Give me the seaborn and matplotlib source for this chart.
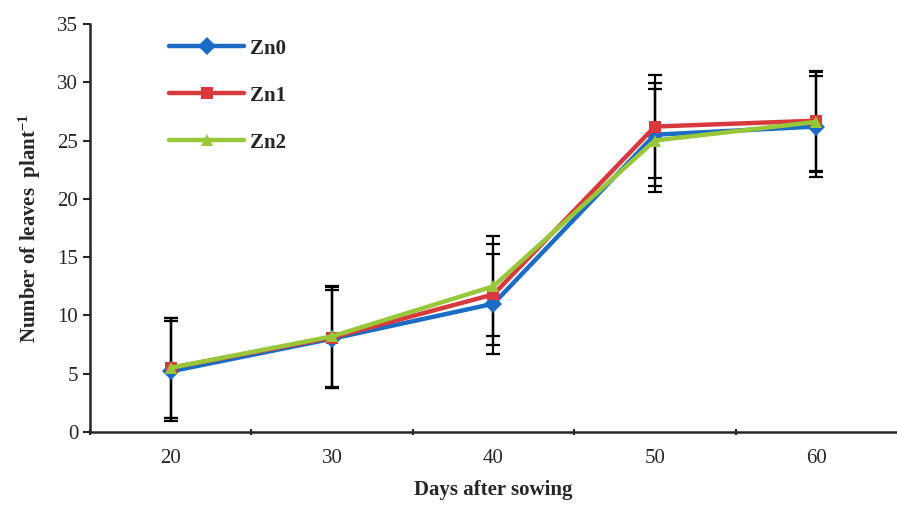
import matplotlib
matplotlib.use("Agg")
import matplotlib.pyplot as plt
import seaborn as sns
import pandas as pd

days = [20, 30, 40, 50, 60]
zn0 = [5.2, 8.0, 11.0, 25.5, 26.2]
zn1 = [5.5, 8.1, 11.8, 26.2, 26.7]
zn2 = [5.5, 8.2, 12.5, 25.0, 26.6]
err0 = [4.3, 4.2, 4.3, 4.4, 4.3]
err1 = [4.3, 4.3, 4.3, 4.4, 4.3]
err2 = [4.3, 4.3, 4.3, 4.4, 4.3]
series = ["Zn0", "Zn1", "Zn2"]
colors = ["#1a6cc4", "#d8393c", "#98c83a"]
markers = ["D", "s", "^"]

sns.set_style("ticks")
plt.rcParams['font.family'] = ['Liberation Serif', 'DejaVu Serif']
plt.rcParams['mathtext.fontset'] = 'custom'
plt.rcParams['mathtext.rm'] = 'Liberation Serif:bold'
plt.rcParams['mathtext.it'] = 'Liberation Serif:bold'
plt.rcParams['mathtext.bf'] = 'Liberation Serif:bold'
plt.rcParams['axes.unicode_minus'] = False

df = pd.concat([
    pd.DataFrame({"day": days, "val": v, "err": e, "trt": s})
    for s, v, e in zip(series, [zn0, zn1, zn2], [err0, err1, err2])
], ignore_index=True)

fig = plt.figure(figsize=(8.97, 5.05), dpi=100)
ax = fig.add_axes([0.1003, 0.1446, 0.8997, 0.808])

for s in series:
    d = df[df.trt == s]
    ax.errorbar(d.day, d.val, yerr=d.err, fmt="none", ecolor="black",
                elinewidth=1.6, capsize=5, capthick=1.6, zorder=1)

sns.lineplot(data=df, x="day", y="val", hue="trt", style="trt",
             palette=dict(zip(series, colors)),
             markers=dict(zip(series, markers)), dashes=False,
             linewidth=3.2, markersize=9, markeredgewidth=0, ax=ax, zorder=3)

ax.set_xlim(15, 65)
ax.set_ylim(0, 35)
ax.set_yticks(range(0, 36, 5))
ax.set_xticks(days)
ax.set_xticks([15, 25, 35, 45, 55], minor=True)
ax.tick_params(axis="x", which="major", length=0, labelsize=15, pad=12)
ax.tick_params(axis="x", which="minor", length=5, width=1.5, direction="inout")
ax.tick_params(axis="y", which="major", length=5, width=1.5, labelsize=15,
               direction="out")
for sp in ["top", "right"]:
    ax.spines[sp].set_visible(False)
for sp in ["left", "bottom"]:
    ax.spines[sp].set_linewidth(1.8)

ax.set_xlabel("Days after sowing", fontsize=15, fontweight="bold", labelpad=9)
ax.set_ylabel("Number of leaves  plant$^{-1}$", fontsize=15, fontweight="bold",
              labelpad=10)

leg = ax.legend(loc="upper left", bbox_to_anchor=(0.075, 1.01), frameon=False,
                handlelength=3.6, labelspacing=1.3, handletextpad=0.3,
                prop={"weight": "bold", "size": 15})

fig.savefig("out.png", dpi=100)
